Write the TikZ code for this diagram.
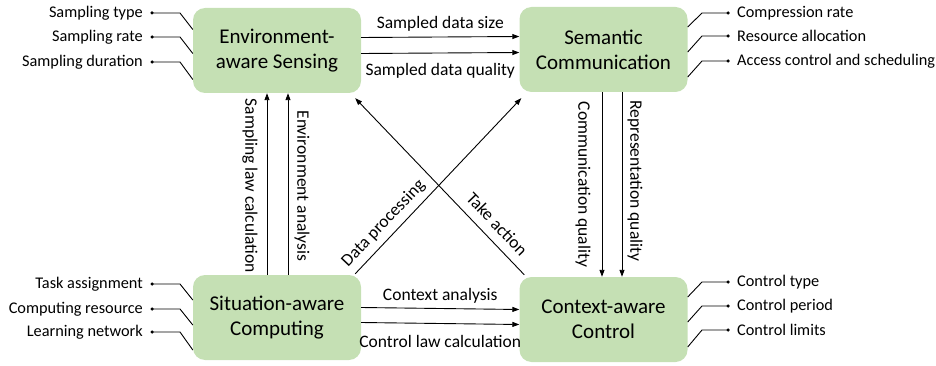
\documentclass[tikz,border=0pt]{standalone}
\usepackage{fontspec}
\setmainfont{Carlito}
\usetikzlibrary{arrows.meta,calc}
\definecolor{boxgreen}{HTML}{C5E0B4}
\tikzset{
  block/.style={draw=none,fill=boxgreen,rounded corners=12pt,minimum width=168pt,minimum height=85pt,align=center,font=\fontsize{21}{25}\selectfont,inner sep=0pt},
  lab/.style={font=\fontsize{16.3}{18}\selectfont,inner sep=0pt},
  elab/.style={font=\fontsize{17.5}{20}\selectfont,inner sep=0pt},
  conn/.style={line width=0.9pt},
  arr/.style={line width=0.9pt,-{Triangle[length=7pt,width=5pt]}},
  dotc/.style={circle,fill=black,inner sep=0pt,minimum size=3.5pt}
}
\begin{document}
\begin{tikzpicture}[x=1pt,y=-1pt]
\useasboundingbox (0,0) rectangle (936,366);
% blocks
\node[block] (env) at (277,50.5) {Environment-\\aware Sensing};
\node[block] (sem) at (603.5,49.5) {Semantic\\Communication};
\node[block] (comp) at (277,317.5) {Situation-aware\\Computing};
\node[block] (ctrl) at (603.5,319.5) {Context-aware\\Control};

% top horizontal
\draw[arr] ([yshift=13pt]env.east) -- node[elab,midway,yshift=13pt] {Sampled data size} ([yshift=13pt]sem.west);
\draw[arr] ([yshift=-3pt]env.east) -- node[elab,midway,yshift=-18pt] {Sampled data quality} ([yshift=-3pt]sem.west);
% bottom horizontal
\draw[arr] ([yshift=10pt]comp.east) -- node[elab,midway,yshift=13pt] {Context analysis} ([yshift=10pt]ctrl.west);
\draw[arr] ([yshift=-5pt]comp.east) -- node[elab,midway,yshift=-18pt] {Control law calculation} ([yshift=-5pt]ctrl.west);
% left vertical
\draw[arr] ([xshift=-10pt]comp.north) -- coordinate[pos=0.49] (m1) ([xshift=-10pt]env.south);
\draw[arr] ([xshift=11pt]comp.north) -- coordinate[pos=0.49] (m2) ([xshift=11pt]env.south);
\node[elab,rotate=-90] (v1) at ([xshift=-17pt]m1) {Sampling law calculation};
\node[elab,rotate=-90] (v2) at ([xshift=14pt]m2) {Environment analysis};
% right vertical
\draw[arr] ([xshift=-1.5pt]sem.south) -- coordinate[pos=0.5] (m3) ([xshift=-1.5pt]ctrl.north);
\draw[arr] ([xshift=18.5pt]sem.south) -- coordinate[pos=0.48] (m4) ([xshift=18.5pt]ctrl.north);
\node[elab,rotate=-90] (v3) at ([xshift=-19pt]m3) {Communication quality};
\node[elab,rotate=-90] (v4) at ([xshift=13pt]m4) {Representation quality};
% diagonals
\draw[arr] ([xshift=-6pt,yshift=1pt]comp.north east) -- node[elab,pos=0.232,sloped,above=6pt] {Data processing} ([xshift=2pt,yshift=-6pt]sem.south west);
\draw[arr] ([xshift=5pt,yshift=2pt]ctrl.north west) -- node[elab,pos=0.227,sloped,above=9pt] {Take action} ([xshift=-6pt,yshift=-5pt]env.south east);

% left top items
\node[dotc] (d1) at (152,13) {};
\node[dotc] (d2) at (152,37) {};
\node[dotc] (d3) at (152,62) {};
\node[lab,anchor=east] (t1) at (143,13) {Sampling type};
\node[lab,anchor=east] (t2) at (143,37) {Sampling rate};
\node[lab,anchor=east] (t3) at (143,62) {Sampling duration};
\draw[conn] (d1.center) -- ++(28,0) -- ([yshift=21pt]env.west);
\draw[conn] (d2.center) -- ++(28,0) -- ([yshift=-3pt]env.west);
\draw[conn] (d3.center) -- ++(28,0) -- ([yshift=-29pt]env.west);

% right top items
\node[dotc] (d4) at (728,13) {};
\node[dotc] (d5) at (728,36) {};
\node[dotc] (d6) at (728,61) {};
\node[lab,anchor=west] (t4) at (737,13) {Compression rate};
\node[lab,anchor=west] (t5) at (737,36) {Resource allocation};
\node[lab,anchor=west] (t6) at (737,61) {Access control and scheduling};
\draw[conn] (d4.center) -- ++(-26,0) -- ([yshift=22.5pt]sem.east);
\draw[conn] (d5.center) -- ++(-26,0) -- ([yshift=-2.5pt]sem.east);
\draw[conn] (d6.center) -- ++(-26,0) -- ([yshift=-27.5pt]sem.east);

% left bottom items
\node[dotc] (d7) at (152,284) {};
\node[dotc] (d8) at (152,309) {};
\node[dotc] (d9) at (152,332) {};
\node[lab,anchor=east] (t7) at (143,284) {Task assignment};
\node[lab,anchor=east] (t8) at (143,309) {Computing resource};
\node[lab,anchor=east] (t9) at (143,332) {Learning network};
\draw[conn] (d7.center) -- ++(28,0) -- ([yshift=17.5pt]comp.west);
\draw[conn] (d8.center) -- ++(28,0) -- ([yshift=-7.5pt]comp.west);
\draw[conn] (d9.center) -- ++(28,0) -- ([yshift=-32.5pt]comp.west);

% right bottom items
\node[dotc] (d10) at (728,282) {};
\node[dotc] (d11) at (728,306) {};
\node[dotc] (d12) at (728,330) {};
\node[lab,anchor=west] (t10) at (737,282) {Control type};
\node[lab,anchor=west] (t11) at (737,306) {Control period};
\node[lab,anchor=west] (t12) at (737,330) {Control limits};
\draw[conn] (d10.center) -- ++(-26,0) -- ([yshift=22.5pt]ctrl.east);
\draw[conn] (d11.center) -- ++(-26,0) -- ([yshift=-2.5pt]ctrl.east);
\draw[conn] (d12.center) -- ++(-26,0) -- ([yshift=-27.5pt]ctrl.east);
\end{tikzpicture}
\end{document}
